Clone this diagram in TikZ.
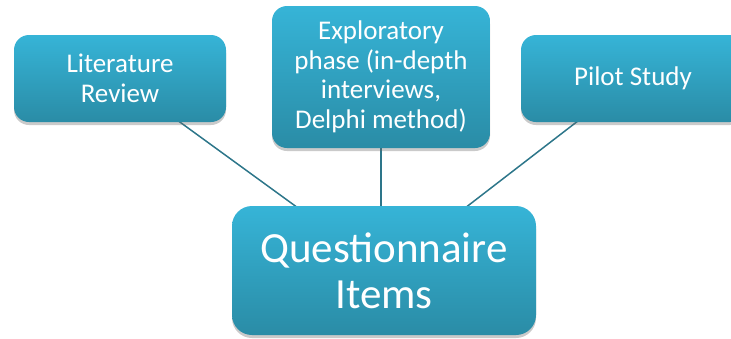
\documentclass[tikz,border=0pt]{standalone}
\usepackage{fontspec}
\setmainfont{Carlito}
\usetikzlibrary{shadows,backgrounds}
\definecolor{boxtop}{RGB}{54,180,215}
\definecolor{boxbot}{RGB}{42,140,166}
\definecolor{linkcol}{RGB}{45,118,138}
\tikzset{
  box/.style={rectangle, rounded corners=15pt, top color=boxtop, bottom color=boxbot,
    draw=none, text=white, align=center, inner sep=0pt,
    drop shadow={shadow xshift=0pt, shadow yshift=-3pt, opacity=0.35, fill=black!60}},
  smalltext/.style={font=\fontsize{27}{29.5}\selectfont},
  bigtext/.style={font=\fontsize{43}{46}\selectfont},
  link/.style={draw=linkcol, line width=1.5pt}
}
\begin{document}
\begin{tikzpicture}[x=1pt,y=-1pt]
\useasboundingbox (0,0) rectangle (731,338);
\clip (0,0) rectangle (731,338);
\node[box, smalltext, minimum width=212pt, minimum height=87pt] (lit) at (120,78.5) {Literature\\Review};
\node[box, smalltext, minimum width=218pt, minimum height=142pt] (exp) at (381,77) {Exploratory\\phase (in-depth\\interviews,\\Delphi method)};
\node[box, smalltext, minimum width=224pt, minimum height=87pt] (pil) at (633,78.5) {Pilot Study};
\node[box, bigtext, rounded corners=20pt, minimum width=304pt, minimum height=129pt] (q) at (384,270.5) {Questionnaire\\Items};
\begin{pgfonlayer}{background}
\draw[link] (lit.center) -- (q.center);
\draw[link] (exp.center) -- (exp.center |- q.center);
\draw[link] (pil.center) -- (q.center);
\end{pgfonlayer}
\end{tikzpicture}
\end{document}
